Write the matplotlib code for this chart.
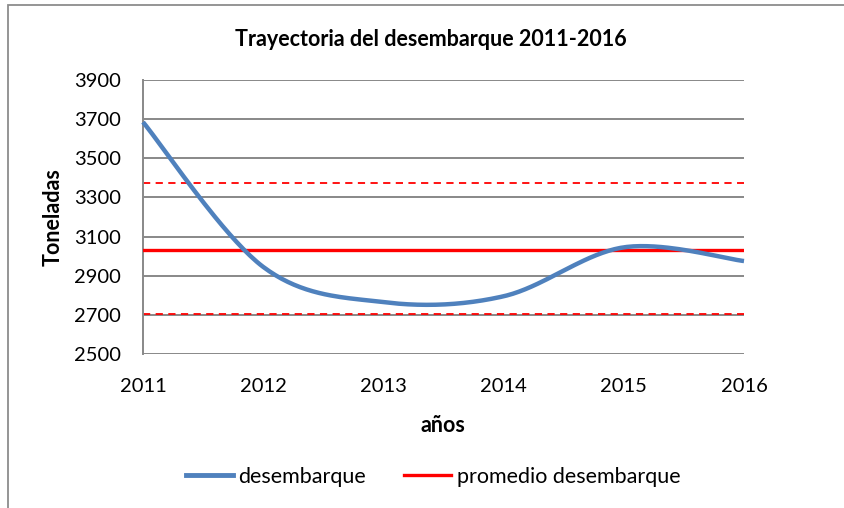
import matplotlib

matplotlib.use("Agg")

import numpy as np
import matplotlib.pyplot as plt
from matplotlib.lines import Line2D
from matplotlib.patches import Rectangle

# ---------------------------------------------------------------------------
# Data
# ---------------------------------------------------------------------------
years = [2011, 2012, 2013, 2014, 2015, 2016]
desembarque = [3685, 2945, 2765, 2795, 3045, 2975]
promedio = 3033
banda_sup = 3372
banda_inf = 2704

y_ticks = [2500, 2700, 2900, 3100, 3300, 3500, 3700, 3900]

BLUE = "#4f81bd"
RED = "#ff0000"
GRID = "#888888"

plt.rcParams["font.family"] = ["Lato", "DejaVu Sans"]


def smooth_curve(x, y, n=40):
    """Excel-style smoothed line: Catmull-Rom segments drawn as cubic Beziers."""
    x = np.asarray(x, float)
    y = np.asarray(y, float)
    px = np.concatenate([[x[0]], x, [x[-1]]])
    py = np.concatenate([[y[0]], y, [y[-1]]])
    xs, ys = [], []
    t = np.linspace(0, 1, n)
    for i in range(1, len(px) - 2):
        p0 = np.array([px[i], py[i]])
        p3 = np.array([px[i + 1], py[i + 1]])
        p1 = p0 + (np.array([px[i + 1], py[i + 1]]) - np.array([px[i - 1], py[i - 1]])) / 6
        p2 = p3 - (np.array([px[i + 2], py[i + 2]]) - np.array([px[i], py[i]])) / 6
        b = ((1 - t) ** 3)[:, None] * p0 + (3 * (1 - t) ** 2 * t)[:, None] * p1 \
            + (3 * (1 - t) * t ** 2)[:, None] * p2 + (t ** 3)[:, None] * p3
        xs.extend(b[:, 0])
        ys.extend(b[:, 1])
    return np.array(xs), np.array(ys)


W, H = 845, 508
fig = plt.figure(figsize=(W / 100, H / 100), dpi=100)
fig.patch.set_facecolor("white")

# chart-area frame (runs off the right and bottom edges, as in the original)
fig.patches.append(Rectangle((8.5 / W, -0.05), 1.2, 1 - 5 / H + 0.05,
                             transform=fig.transFigure, fill=False,
                             edgecolor="#8c8c8c", linewidth=1.3))

ax = fig.add_axes([143 / W, (H - 354) / H, (744 - 143) / W, (354 - 80) / H])
ax.set_xlim(years[0], years[-1])
ax.set_ylim(y_ticks[0], y_ticks[-1])

for v in y_ticks:
    ax.axhline(v, color=GRID, linewidth=1.4, zorder=1)

for s in ["top", "right", "bottom"]:
    ax.spines[s].set_visible(False)
ax.spines["left"].set_color(GRID)
ax.spines["left"].set_linewidth(1.4)

ax.axhline(banda_sup, color=RED, linewidth=1.3, linestyle=(0, (4, 3)), zorder=2)
ax.axhline(banda_inf, color=RED, linewidth=1.3, linestyle=(0, (4, 3)), zorder=2)
ax.axhline(promedio, color=RED, linewidth=2.4, zorder=3)

sx, sy = smooth_curve(years, desembarque)
ax.plot(sx, sy, color=BLUE, linewidth=3.2, solid_capstyle="butt", zorder=4, clip_on=False)

ax.set_xticks(years)
ax.set_yticks(y_ticks)
ax.tick_params(axis="both", length=0, labelsize=14.5, colors="black")
ax.tick_params(axis="y", pad=16)
ax.tick_params(axis="x", pad=17)

fig.text(443 / W, 1 - 425 / H, "años", ha="center", va="center",
         fontsize=15.5, fontweight="bold")
fig.text(53 / W, 1 - 217 / H, "Toneladas", ha="center", va="center",
         rotation=90, fontsize=15.5, fontweight="bold")

fig.text(431 / W, 1 - 40 / H, "Trayectoria del desembarque 2011-2016",
         ha="center", va="center", fontsize=15.5, fontweight="bold")

handles = [Line2D([], [], color=BLUE, linewidth=3.5),
           Line2D([], [], color=RED, linewidth=2.4)]
fig.legend(handles, ["desembarque", "promedio desembarque"],
           loc="center", bbox_to_anchor=(433 / W, 1 - 477 / H), ncol=2,
           frameon=False, fontsize=15.5, handlelength=2.2, handletextpad=0.25,
           columnspacing=1.75)

fig.savefig("out.png", dpi=100)
